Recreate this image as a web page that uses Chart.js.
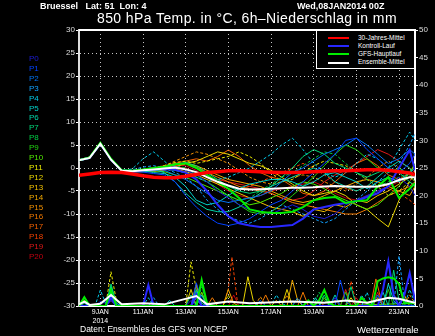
<!DOCTYPE html>
<html><head><meta charset="utf-8">
<script src="https://cdn.jsdelivr.net/npm/chart.js@4.4.1/dist/chart.umd.min.js"></script>
<style>
html,body{margin:0;padding:0;background:#000;width:435px;height:336px;overflow:hidden;}
#wrap{position:relative;width:435px;height:336px;}
#c{position:absolute;left:0;top:0;}
.t{position:absolute;color:#fff;font-family:"Liberation Sans",Arial,sans-serif;white-space:pre;line-height:1;}
#legend{position:absolute;left:316px;top:30px;width:99px;height:39px;box-sizing:border-box;border:1px solid #fff;background:#000;}
.lg{position:absolute;left:11px;height:2px;width:21px;}
.lt{position:absolute;left:41px;color:#fff;font:6.5px "Liberation Sans",Arial,sans-serif;white-space:nowrap;line-height:1;}
</style></head>
<body><div id="wrap">
<canvas id="c" width="435" height="336"></canvas>
<div class="t" style="left:40px;top:2px;font-weight:bold;font-size:9px;">Bruessel   Lat: 51  Lon: 4</div>
<div class="t" style="left:297px;top:2px;font-weight:bold;font-size:9px;">Wed,08JAN2014 00Z</div>
<div class="t" style="left:97px;top:11px;font-size:14px;letter-spacing:0.4px;">850 hPa Temp. in °C, 6h–Niederschlag in mm</div>
<div class="t" style="left:80px;top:325px;font-size:8.5px;">Daten: Ensembles des GFS von NCEP</div>
<div class="t" style="left:357px;top:325px;font-size:9.5px;">Wetterzentrale</div>
<div id="plabels"></div>
<div id="legend"></div>
</div>
<script>
// ---- time axis (hours after 08JAN2014 00Z) ----
const hours = [0,12,24,36,48,60,72,84,96,108,120,132,144,156,168,180,192,204,216,228,240,252,264,276,288,300,312,324,336,348,360,372,378];
const dateTickHours = [24,72,120,168,216,264,312,360];
const dateLabels = [['9JAN','2014'],'11JAN','13JAN','15JAN','17JAN','19JAN','21JAN','23JAN'];

// ---- member names / colours ----
const memberNames = ['P0','P1','P2','P3','P4','P5','P6','P7','P8','P9','P10','P11','P12','P13','P14','P15','P16','P17','P18','P19','P20'];
const memberColors = ['#1c1cd8','#0040ff','#0070f0','#10a0ff','#00c8e8','#00d0c8','#00d4a8','#00d878','#00cc44','#20d010','#50e800','#e8e800','#e8d400','#f0c000','#f0a800','#f09000','#f07800','#f06000','#f04000','#e01818','#c00010'];
const memberDashed = [false,false,false,true,true,false,false,false,true,false,false,true,false,false,false,true,false,false,true,false,false];

// ---- 850 hPa temperature (°C), members ----
const p0 = [1.7,2.2,5.3,1.8,-0.7,-0.9,-0.6,-0.4,-0.2,0.3,-0.5,-1.5,-3,-5,-6.5,-8,-9,-9.5,-10,-9,-8,-9,-10.5,-11,-10,-8,-7,-6,-5,-4,-2,-4,-6];
const p1 = [1.8,2.3,5.2,2.0,-0.6,-0.8,-0.9,-1.2,-1.5,-3,-6,-8.5,-10.5,-12,-12.5,-12,-11,-9.5,-8,-7,-5,-3,-1,1,3,6,6.5,4,2,0,-1,1,3];
const p2 = [1.6,2.1,5.4,1.9,-0.4,-0.6,-0.3,0,-0.5,-1.5,-2.5,-4,-5.5,-7,-7.5,-7,-6.5,-6,-5,-3,-1,0,1.5,3,4,5,6.5,5,3,1,2,4,3];
const p3 = [1.7,2.3,5.3,1.7,-0.6,-0.4,0.2,0.5,0,-1,-2,-4,-7,-9,-10.5,-11.5,-12,-11,-9.5,-8,-9,-10,-11,-12,-11,-9,-7,-5,-3,-1,1,5,7.5];
const p4 = [1.7,2.2,5.2,1.7,-0.6,-0.2,2.0,3.5,1.5,-0.5,-1,-2,-3,-2.5,-2,-1,0,1.5,3,5,6.5,4,1,-1,-2,-1,1,3,2,0,4,7.8,6];
const p5 = [1.6,2.1,5.0,1.9,-0.7,-0.8,-0.6,-1,-1.2,-2,-4,-7,-8,-7.5,-6,-4.5,-3.5,-3,-2.5,-2.5,-3,-4,-3,-1.5,-1,-2,-3,-4.5,-3,-2,-3,-1,0];
const p6 = [1.8,2.4,5.5,1.6,-0.5,-0.7,-0.8,-0.3,-1,-3,-5.5,-7.5,-9,-9.5,-9.5,-8.5,-7,-5.5,-4,-3,-2,-1,0,-1,-3,-4,-5,-4,-2,0,1.5,0,-2];
const p7 = [1.7,2.2,5.3,1.8,-0.6,-0.7,-0.5,-0.7,0,0.8,1.2,0.5,-1,-2.5,-4,-5,-5.5,-5,-4,-2,0,2.5,4,3,1,0,-1,-2,-1,0,-1,-3,-4];
const p8 = [1.6,2.2,5.4,1.7,-0.5,-0.5,-0.4,-0.2,0.3,0.5,0,-1.5,-3,-4.5,-6,-7,-6.5,-5,-3.5,-2,-1,0.5,2,3.5,3,1,-1,-2.5,-4,-3,-2,-1,0];
const p9 = [1.7,2.3,5.3,1.9,-0.6,-0.8,-0.6,-0.5,-0.3,-0.5,-1,-2,-3,-4.5,-6,-8,-9.5,-10,-9.5,-8,-6,-4,-2,0.5,3,5,4,2,0,-1,0,-1.5,-3];
const p10 = [1.8,2.4,5.4,1.8,-0.5,-0.6,-0.4,-0.6,-0.8,-1.5,-2,-3,-4,-5,-6,-7,-8,-7.5,-6.5,-5.5,-4,-3,-3.5,-4.5,-6,-7,-8,-9,-8,-6,-4,-1,1];
const p11 = [1.7,2.2,5.2,1.7,-0.6,-0.7,-0.5,-0.3,0.5,1.2,1.5,1,1.5,2,2.5,3.5,2.5,1,-1,-3,-2.5,-1,0.5,1.5,1,0.5,-1,-2.5,-4,-6,-5,-3,-1];
const p12 = [1.6,2.1,5.1,1.8,-0.5,-0.6,-0.4,-0.1,0.2,0.8,1,1.5,2.5,3.5,3,2,1,0.5,-0.5,-2,-3.5,-5,-6,-5.5,-5,-6,-8,-9,-11,-12.8,-7,-3,-4];
const p13 = [1.7,2.3,5.3,1.9,-0.6,-0.8,-0.7,-0.5,-0.3,-0.2,-0.8,-1.5,-2.5,-3.5,-4.5,-5.5,-6.5,-7.5,-8.5,-9,-9.5,-10.5,-9,-9.5,-8,-8.5,-7,-7.5,-6,-5,-3.5,-2,-1];
const p14 = [1.8,2.3,5.4,1.6,-0.7,-0.9,-0.8,-0.7,-0.5,0.2,1,0.5,-0.5,-1.5,-2.5,-3,-3.5,-4,-5,-6,-7,-7.5,-7,-6,-5,-4,-3,-2.5,-3,-4,-5,-6,-4];
const p15 = [1.7,2.2,5.3,1.7,-0.5,-0.5,-0.3,0.1,0.5,1.5,2.5,3.5,3,2,1,-0.5,-2,-3,-3.5,-3,-2,-1.5,-2,-3,-4,-5,-3.5,-2,0,1.5,0,-2,-1];
const p16 = [1.6,2.2,5.2,1.8,-0.6,-0.7,-0.6,-0.4,0,0.6,1,0.2,-1,-2,-3,-4,-4.5,-5,-5.5,-6.5,-7.5,-8,-8.5,-9,-9.5,-10,-10,-9,-7.5,-6,-5,-4,-3];
const p17 = [1.7,2.3,5.4,1.7,-0.5,-0.6,-0.3,0,0.5,1,1.5,2,1.5,2.5,3.9,2.5,0.5,-1,-2,-2.5,-4,-5.5,-6,-5,-3,-1,1,2,0.5,-1.5,-2.5,-1,0.5];
const p18 = [1.7,2.2,5.3,1.8,-0.6,-0.8,-0.6,-0.7,-0.4,0.3,0.8,0,-1.5,-3,-4,-4.5,-4,-3,-2,-1,0,1,0,-1.5,-3,-4.5,-5,-4,-3.5,-4.5,-5.5,-7,-8];
const p19 = [1.8,2.4,5.3,1.7,-0.5,-0.7,-0.6,-0.5,-0.2,0.2,0,-1,-2,-2.5,-3,-3.5,-4,-4.5,-5.5,-6.5,-7,-6.5,-5,-3,-1.5,-0.5,1,2.5,4,3,1.5,0,-1];
const p20 = [1.7,2.2,5.2,1.8,-0.6,-0.7,-0.5,-0.4,0,0.6,0.5,-0.5,-2,-3.5,-5,-6,-6.5,-6,-5,-4.5,-4,-3.5,-3,-4,-5.5,-6.5,-7,-6,-5,-4,-3,-2,-3];
const memberTemps = [p0,p1,p2,p3,p4,p5,p6,p7,p8,p9,p10,p11,p12,p13,p14,p15,p16,p17,p18,p19,p20];

// ---- special runs (°C) ----
const controlTemp = [1.7,2.2,5.3,1.8,-0.6,-0.8,-0.5,-0.3,-0.2,-0.4,-1,-2.5,-5,-8,-10.5,-12,-12.5,-12.8,-12.8,-12.6,-12.4,-11,-9,-8.5,-8,-7.6,-7.2,-6.3,-5.5,-4,0,3.9,-0.5];
const operTemp = [1.7,2.3,5.5,2.0,-0.5,-0.6,-0.3,0,0.3,0.8,1,0,-1.5,-3,-4.5,-6.5,-9,-9.5,-9.8,-9.8,-9.5,-8.5,-7,-6.5,-6.3,-7.6,-7.2,-7,-4,-2,-6.5,-4.5,-3.3];
const meanTemp = [1.7,2.2,5.3,1.8,-0.6,-0.7,-0.5,-0.3,-0.1,0.1,-0.3,-0.9,-2.0,-3.0,-3.8,-4.5,-4.7,-4.6,-4.5,-4.4,-4.3,-4.3,-4.2,-4.0,-3.9,-4.0,-4.1,-4.1,-4.0,-3.5,-2.6,-2.0,-2.0];
const climTemp = [-1.6,-1.3,-1.0,-0.9,-1.0,-1.3,-1.7,-2.0,-2.1,-2.1,-1.8,-1.4,-1.0,-0.8,-0.6,-0.6,-0.7,-0.8,-0.9,-1.0,-1.0,-0.9,-0.8,-0.7,-0.6,-0.6,-0.5,-0.4,-0.4,-0.5,-0.8,-1.1,-1.5];

// ---- 6h precipitation (mm), [hour, mm] ----
const rr0 = [[0,0],[18,0],[24,0.8],[30,0.5],[36,1.5],[42,0],[120,0],[126,1],[132,0],[282,0],[288,1.5],[294,0],[372,0],[378,1]];
const rr1 = [[0,0],[30,0],[36,1],[42,0],[126,0],[132,4.2],[138,1],[144,0],[288,0],[294,4.7],[300,1],[306,0],[378,0]];
const rr2 = [[0,0],[30,0],[36,2],[42,0.5],[48,0],[126,0],[132,2.5],[138,0],[198,0],[204,1],[210,0],[330,0],[336,2],[342,0],[378,0]];
const rr3 = [[0,0],[24,0],[30,1],[36,3],[42,0],[78,0],[84,1.5],[90,0],[240,0],[246,1.5],[252,0],[312,0],[318,2],[324,0],[354,0],[360,9.1],[366,1],[372,0],[378,1]];
const rr4 = [[0,0],[18,0],[24,2.9],[30,0.5],[36,2.5],[42,0],[72,0],[78,1.5],[84,0],[126,0],[132,1.5],[138,0],[216,0],[222,2],[228,0.5],[234,0],[318,0],[324,2.5],[330,0],[366,0],[372,3],[378,0.5]];
const rr5 = [[0,0],[30,0],[36,3.5],[42,0],[96,0],[102,1],[108,0],[132,0],[138,2],[144,0],[260,0],[266,1.5],[272,0],[342,0],[348,4],[354,1],[360,0],[378,0]];
const rr6 = [[0,0],[6,0.5],[12,0],[30,0],[36,2],[42,0],[126,0],[132,3],[138,0.5],[144,0],[282,0],[288,2],[294,0],[336,0],[342,2.5],[348,0],[378,0]];
const rr7 = [[0,0],[30,0],[36,4],[42,0.5],[48,0],[120,0],[126,2],[132,0],[270,0],[276,2],[282,0],[300,0],[306,3.5],[312,0],[348,0],[354,6.5],[360,1],[366,0],[378,0]];
const rr8 = [[0,0],[6,1],[12,0],[30,0],[36,2.5],[42,0],[132,0],[138,3.5],[144,0.5],[150,0],[264,0],[270,2.5],[276,1],[282,0],[378,0]];
const rr9 = [[0,0],[30,0],[36,3],[42,1],[48,0],[126,0],[132,2],[138,4],[144,0],[294,0],[300,2.5],[306,0],[342,0],[348,3],[354,0],[378,0]];
const rr10 = [[0,0],[6,1.6],[12,0],[30,0],[36,2],[42,0],[132,0],[138,2.5],[144,0],[270,0],[276,1.5],[282,0],[378,0.5]];
const rr11 = [[0,0],[6,1.5],[12,0],[30,0],[36,6.2],[42,1],[48,0],[120,0],[126,8],[132,3],[138,0],[162,0],[168,2],[174,0],[282,0],[288,1],[294,0],[378,0]];
const rr12 = [[0,0],[30,0],[36,3.5],[42,0],[120,0],[126,3],[132,0],[184,0],[190,5.3],[196,1],[202,0],[228,0],[234,3],[240,0],[300,0],[306,1.5],[312,0],[378,0]];
const rr13 = [[0,0],[6,1],[12,0],[30,0],[36,2.5],[42,0],[126,0],[132,4],[138,0],[216,0],[222,1],[228,0],[330,0],[336,1.5],[342,0],[360,0],[366,2],[372,0],[378,0]];
const rr14 = [[0,0],[30,0],[36,2],[42,0],[162,0],[168,3],[174,0.5],[180,0],[234,0],[240,4.7],[246,1],[252,0],[378,0]];
const rr15 = [[0,0],[30,0],[36,3],[42,0],[126,0],[132,2],[138,0],[198,0],[204,1.7],[210,0],[228,0],[234,2],[240,0],[366,0],[372,2],[378,0.5]];
const rr16 = [[0,0],[6,0.8],[12,0],[30,0],[36,1.5],[42,0],[144,0],[150,1.5],[156,0],[204,0],[210,2],[216,0],[246,0],[252,2.5],[258,0],[378,0]];
const rr17 = [[0,0],[30,0],[36,2],[42,0],[132,0],[138,2.5],[144,0],[264,0],[270,1],[276,0],[328,0],[334,4.9],[340,1],[346,0],[378,0]];
const rr18 = [[0,0],[6,1.2],[12,0],[30,0],[36,1.5],[42,0],[162,0],[168,3],[172,8.9],[178,1],[184,0],[300,0],[306,4.5],[312,0.5],[318,0],[378,0]];
const rr19 = [[0,0],[6,1.6],[12,0],[30,0],[36,2],[42,0],[126,0],[132,1.5],[138,0],[294,0],[300,3],[306,0],[330,0],[336,2.5],[342,0],[378,0]];
const rr20 = [[0,0],[6,0.6],[12,0],[30,0],[36,1],[42,0],[168,0],[174,2],[180,0],[306,0],[312,1.5],[318,0],[378,0]];
const memberRain = [rr0,rr1,rr2,rr3,rr4,rr5,rr6,rr7,rr8,rr9,rr10,rr11,rr12,rr13,rr14,rr15,rr16,rr17,rr18,rr19,rr20];
const controlRain = [[0,0],[30,0],[36,1.5],[42,0],[72,0],[78,3.8],[84,0],[126,0],[132,2],[138,0],[336,0],[342,3],[348,8.1],[354,2],[360,0],[366,2],[372,6],[378,1]];
const operRain = [[0,0],[6,1.6],[12,0],[30,0],[36,3],[42,0],[132,0],[138,4.7],[144,0.5],[150,0],[252,0],[258,1],[264,0],[270,1],[276,2.9],[282,0.5],[288,0],[312,0],[318,1.5],[324,0.5],[330,0],[336,4.5],[342,5],[348,5.2],[354,5],[360,4],[366,0.5],[378,0.5]];
const meanRain = [[0,0.3],[6,0.8],[12,0.2],[24,0.4],[36,2],[48,0.3],[72,0.5],[96,0.3],[132,1.8],[144,0.3],[168,0.8],[192,0.5],[240,0.8],[276,0.6],[300,1],[324,0.6],[348,1.5],[360,1.3],[378,0.6]];

// ---- legend ----
const legendNames = ['30-Jahres-Mittel','Kontroll-Lauf','GFS-Hauptlauf','Ensemble-Mittel'];
const legendColors = ['#ff0000','#2828ff','#00ee00','#ffffff'];

// build HTML labels
const pl = document.getElementById('plabels');
memberNames.forEach((n,i)=>{
  const d=document.createElement('div');d.className='t';d.textContent=n;
  d.style.cssText=`left:29px;top:${55+i*9.9}px;font-size:8px;color:${memberColors[i]};`;
  pl.appendChild(d);
});
const lg = document.getElementById('legend');
legendNames.forEach((n,i)=>{
  const y=6+i*8.2;
  const l=document.createElement('div');l.className='lg';l.style.top=(y)+'px';l.style.background=legendColors[i];lg.appendChild(l);
  const t=document.createElement('div');t.className='lt';t.textContent=n;t.style.top=(y-2.5)+'px';lg.appendChild(t);
});

const toPts = arr => hours.map((h,i)=>({x:h,y:arr[i]}));
const pairPts = arr => arr.map(([x,y])=>({x,y}));
const lineDs = (data,color,width,axis,dash)=>({data,borderColor:color,borderWidth:width,yAxisID:axis,pointRadius:0,tension:0,fill:false,borderDash:dash||[]});

const datasets = [];
datasets.push(lineDs(toPts(climTemp),'#ff0000',3.5,'y'));
datasets.push(lineDs(toPts(meanTemp),'#ffffff',2,'y'));
datasets.push(lineDs(toPts(operTemp),'#00ee00',2,'y'));
datasets.push(lineDs(toPts(controlTemp),'#2828ff',2,'y'));
memberTemps.forEach((a,i)=>datasets.push(lineDs(toPts(a),memberColors[i],1,'y',memberDashed[i]?[3,2]:[])));
datasets.push(lineDs(pairPts(meanRain),'#ffffff',2,'y2'));
datasets.push(lineDs(pairPts(operRain),'#00ee00',2,'y2'));
datasets.push(lineDs(pairPts(controlRain),'#2828ff',2,'y2'));
memberRain.forEach((a,i)=>datasets.push(lineDs(pairPts(a),memberColors[i],1,'y2',memberDashed[i]?[3,2]:[])));

const frame = {id:'frame',afterDatasetsDraw(c){const {ctx,chartArea:a}=c;ctx.save();ctx.strokeStyle='#fff';ctx.lineWidth=2;ctx.beginPath();ctx.moveTo(a.left,a.top);ctx.lineTo(a.right,a.top);ctx.stroke();ctx.restore();}};

const tickFont = {family:'"Liberation Sans", Arial, sans-serif', size:8};
new Chart(document.getElementById('c'),{
  type:'line',
  data:{datasets},
  plugins:[frame],
  options:{
    responsive:false, animation:false, devicePixelRatio:1,
    layout:{padding:{top:30,left:0,right:0,bottom:0}},
    plugins:{legend:{display:false},tooltip:{enabled:false},title:{display:false}},
    scales:{
      x:{type:'linear',min:0,max:378,
        afterFit(s){s.height=30;},
        afterBuildTicks(s){s.ticks=dateTickHours.map(v=>({value:v}));},
        ticks:{color:'#fff',font:{family:tickFont.family,size:7},padding:2,maxRotation:0,autoSkip:false,
          callback:(v,i)=>dateLabels[i]},
        grid:{color:'rgba(220,220,220,0.9)',lineWidth:1,drawTicks:false},
        border:{color:'#fff',width:2,dash:[1,3]}},
      y:{position:'left',min:-30,max:30,
        afterFit(s){s.width=79;},
        ticks:{stepSize:5,color:'#ddd',font:tickFont,padding:1},
        grid:{color:'rgba(220,220,220,0.9)',lineWidth:1,drawTicks:true,tickLength:3,tickColor:'#fff'},
        border:{color:'#ddd',width:2,dash:[1,3]}},
      y2:{position:'right',min:0,max:50,
        afterFit(s){s.width=20;},
        ticks:{stepSize:5,color:'#ddd',font:tickFont,padding:1},
        grid:{drawOnChartArea:false,drawTicks:true,tickLength:3,tickColor:'#fff'},
        border:{color:'#fff',width:2}}
    }
  }
});
</script>
</body></html>
